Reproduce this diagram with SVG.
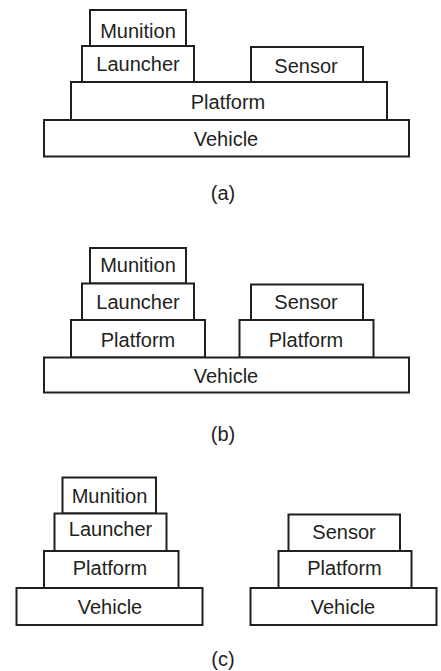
<svg xmlns="http://www.w3.org/2000/svg" width="441" height="671" viewBox="0 0 441 671">
  <style>
    .box rect { fill: #ffffff; stroke: #231f20; stroke-width: 2; }
    .box text { font-family: "Liberation Sans", Arial, sans-serif; font-size: 20px; fill: #231f20; text-anchor: middle; }
    .cap { font-family: "Liberation Sans", Arial, sans-serif; font-size: 20px; fill: #231f20; text-anchor: middle; }
  </style>
  <rect width="441" height="671" fill="#ffffff"/>

  <!-- (a) single vehicle, single platform -->
  <g id="a-munition" class="box"><rect x="90" y="10" width="96" height="36"/><text x="138" y="37.5">Munition</text></g>
  <g id="a-launcher" class="box"><rect x="82" y="46" width="112" height="36"/><text x="138" y="70.5">Launcher</text></g>
  <g id="a-sensor" class="box"><rect x="251" y="47" width="112" height="35"/><text x="306" y="72.5">Sensor</text></g>
  <g id="a-platform" class="box"><rect x="71" y="82" width="316" height="38"/><text x="228" y="109">Platform</text></g>
  <g id="a-vehicle" class="box"><rect x="44" y="120" width="365" height="36.5"/><text x="226" y="146">Vehicle</text></g>
  <text class="cap" x="223" y="200">(a)</text>

  <!-- (b) single vehicle, two platforms -->
  <g id="b-munition" class="box"><rect x="90" y="248" width="96" height="35.5"/><text x="138" y="272">Munition</text></g>
  <g id="b-launcher" class="box"><rect x="82" y="283.5" width="112" height="36.5"/><text x="138" y="309">Launcher</text></g>
  <g id="b-sensor" class="box"><rect x="251" y="284.5" width="112" height="35.5"/><text x="306" y="309">Sensor</text></g>
  <g id="b-platform-1" class="box"><rect x="71" y="320" width="134" height="37.5"/><text x="138" y="346.5">Platform</text></g>
  <g id="b-platform-2" class="box"><rect x="239.5" y="320" width="134" height="37.5"/><text x="306" y="346.5">Platform</text></g>
  <g id="b-vehicle" class="box"><rect x="44" y="357.5" width="365" height="35"/><text x="226" y="383">Vehicle</text></g>
  <text class="cap" x="223" y="441">(b)</text>

  <!-- (c) two vehicles -->
  <g id="c-munition" class="box"><rect x="62.5" y="477.5" width="93.5" height="36"/><text x="109.5" y="502.5">Munition</text></g>
  <g id="c-launcher" class="box"><rect x="54.5" y="513.5" width="112" height="37.5"/><text x="110.5" y="535.5">Launcher</text></g>
  <g id="c-platform-1" class="box"><rect x="44" y="551" width="134.5" height="37"/><text x="110" y="574.5">Platform</text></g>
  <g id="c-vehicle-1" class="box"><rect x="16.5" y="588" width="186" height="37"/><text x="110" y="613.5">Vehicle</text></g>
  <g id="c-sensor" class="box"><rect x="288.5" y="514.5" width="111.5" height="36.5"/><text x="344" y="538.5">Sensor</text></g>
  <g id="c-platform-2" class="box"><rect x="278.5" y="551" width="133" height="37"/><text x="344.5" y="574.5">Platform</text></g>
  <g id="c-vehicle-2" class="box"><rect x="250.5" y="588" width="186" height="37"/><text x="343" y="613.5">Vehicle</text></g>
  <text class="cap" x="223" y="666">(c)</text>

  <g id="connectors"/>
</svg>
